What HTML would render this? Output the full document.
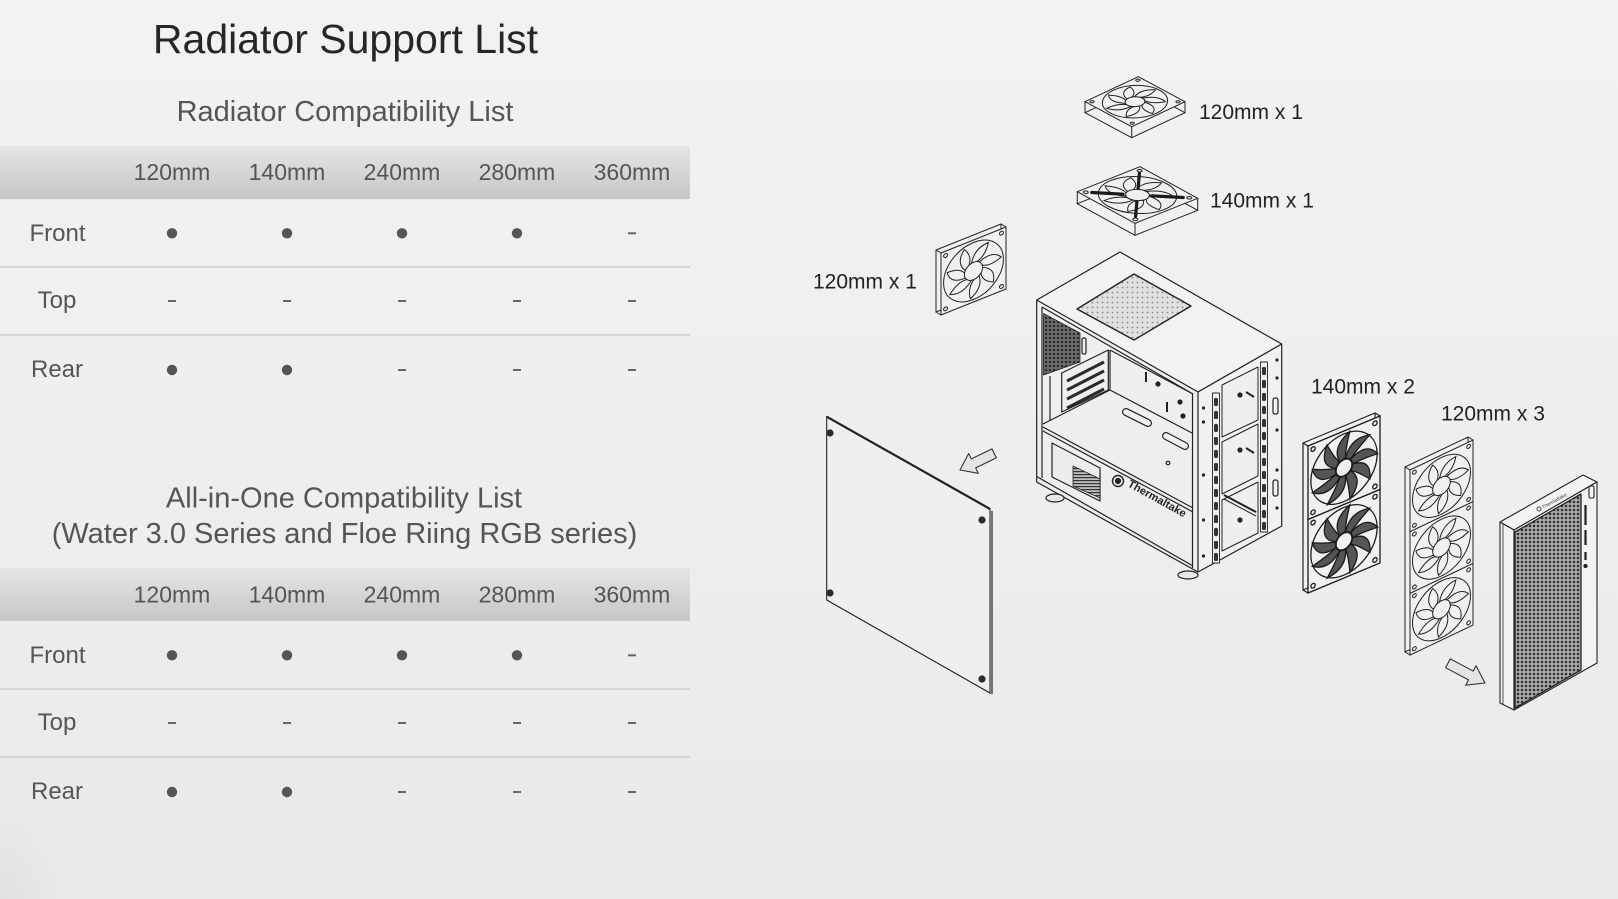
<!DOCTYPE html>
<html>
<head>
<meta charset="utf-8">
<style>
html,body{margin:0;padding:0;}
body{width:1618px;height:899px;overflow:hidden;position:relative;
background:linear-gradient(180deg,#f2f2f2 0%,#eeeeee 55%,#e9e9e9 100%);
font-family:"Liberation Sans",Arial,sans-serif;}
.corner{position:absolute;left:0;top:800px;width:60px;height:99px;
background:radial-gradient(ellipse at 0% 100%,rgba(0,0,0,0.035) 0%,rgba(0,0,0,0) 70%);}
.band{position:absolute;left:0;width:690px;height:53px;
background:linear-gradient(180deg,#e5e5e5 0%,#d6d6d6 50%,#c6c6c6 100%);}
.rl{position:absolute;left:0;width:690px;height:2px;background:#d5d5d5;}
svg{position:absolute;left:0;top:0;}
</style>
</head>
<body>
<div class="corner"></div>
<div class="band" style="top:146px"></div>
<div class="band" style="top:568px"></div>
<div class="rl" style="top:266px"></div>
<div class="rl" style="top:334px"></div>
<div class="rl" style="top:688px"></div>
<div class="rl" style="top:756px"></div>

<svg width="1618" height="899" viewBox="0 0 1618 899" xmlns="http://www.w3.org/2000/svg">
<defs>
  <pattern id="mesh" width="4" height="4" patternUnits="userSpaceOnUse">
    <rect width="4" height="4" fill="#a8a8a8"/>
    <circle cx="2" cy="2" r="1.25" fill="#2e2e2e"/>
  </pattern>
  <pattern id="tmesh" width="5" height="5" patternUnits="userSpaceOnUse">
    <rect width="5" height="5" fill="#e0e0e0"/>
    <circle cx="2.5" cy="2.5" r="0.9" fill="#8a8a8a"/>
  </pattern>
  <pattern id="dmesh" width="4" height="4" patternUnits="userSpaceOnUse">
    <rect width="4" height="4" fill="#6a6a6a"/>
    <circle cx="2" cy="2" r="1.1" fill="#1e1e1e"/>
  </pattern>
  <pattern id="vent" width="3" height="3" patternUnits="userSpaceOnUse">
    <rect width="3" height="3" fill="#bdbdbd"/>
    <rect width="3" height="1.2" fill="#333"/>
  </pattern>
  <g id="frame">
    <rect x="0" y="0" width="100" height="100" fill="#f0f0f0" stroke="#222" stroke-width="1" vector-effect="non-scaling-stroke"/>
  </g>
  <g id="fan" fill="none" stroke="#222" stroke-width="1">
    <rect x="0" y="0" width="100" height="100" fill="#f0f0f0" vector-effect="non-scaling-stroke"/>
    <circle cx="7" cy="7" r="3" vector-effect="non-scaling-stroke"/>
    <circle cx="93" cy="7" r="3" vector-effect="non-scaling-stroke"/>
    <circle cx="7" cy="93" r="3" vector-effect="non-scaling-stroke"/>
    <circle cx="93" cy="93" r="3" vector-effect="non-scaling-stroke"/>
    <circle cx="50" cy="50" r="46" vector-effect="non-scaling-stroke"/>
    <path d="M64,50 Q84.8,59.3 80.4,80.4 Q63,72.5 61.5,58 Z" vector-effect="non-scaling-stroke"/>
    <path d="M64,50 Q84.8,59.3 80.4,80.4 Q63,72.5 61.5,58 Z" transform="rotate(51.4 50 50)" vector-effect="non-scaling-stroke"/>
    <path d="M64,50 Q84.8,59.3 80.4,80.4 Q63,72.5 61.5,58 Z" transform="rotate(102.9 50 50)" vector-effect="non-scaling-stroke"/>
    <path d="M64,50 Q84.8,59.3 80.4,80.4 Q63,72.5 61.5,58 Z" transform="rotate(154.3 50 50)" vector-effect="non-scaling-stroke"/>
    <path d="M64,50 Q84.8,59.3 80.4,80.4 Q63,72.5 61.5,58 Z" transform="rotate(205.7 50 50)" vector-effect="non-scaling-stroke"/>
    <path d="M64,50 Q84.8,59.3 80.4,80.4 Q63,72.5 61.5,58 Z" transform="rotate(257.1 50 50)" vector-effect="non-scaling-stroke"/>
    <path d="M64,50 Q84.8,59.3 80.4,80.4 Q63,72.5 61.5,58 Z" transform="rotate(308.6 50 50)" vector-effect="non-scaling-stroke"/>
    <circle cx="50" cy="50" r="14" fill="#f0f0f0" vector-effect="non-scaling-stroke"/>
  </g>
  <g id="fanB" fill="none" stroke="#1a1a1a" stroke-width="1.3">
    <rect x="0" y="0" width="100" height="100" fill="#f0f0f0" vector-effect="non-scaling-stroke"/>
    <circle cx="7" cy="7" r="3" vector-effect="non-scaling-stroke"/>
    <circle cx="93" cy="7" r="3" vector-effect="non-scaling-stroke"/>
    <circle cx="7" cy="93" r="3" vector-effect="non-scaling-stroke"/>
    <circle cx="93" cy="93" r="3" vector-effect="non-scaling-stroke"/>
    <circle cx="50" cy="50" r="46" vector-effect="non-scaling-stroke"/>
    <path d="M62,50 Q88,52 86,80 Q70,64 60,58 Z" fill="#555" vector-effect="non-scaling-stroke"/>
    <path d="M62,50 Q88,52 86,80 Q70,64 60,58 Z" fill="#555" transform="rotate(40 50 50)" vector-effect="non-scaling-stroke"/>
    <path d="M62,50 Q88,52 86,80 Q70,64 60,58 Z" fill="#555" transform="rotate(80 50 50)" vector-effect="non-scaling-stroke"/>
    <path d="M62,50 Q88,52 86,80 Q70,64 60,58 Z" fill="#555" transform="rotate(120 50 50)" vector-effect="non-scaling-stroke"/>
    <path d="M62,50 Q88,52 86,80 Q70,64 60,58 Z" fill="#555" transform="rotate(160 50 50)" vector-effect="non-scaling-stroke"/>
    <path d="M62,50 Q88,52 86,80 Q70,64 60,58 Z" fill="#555" transform="rotate(200 50 50)" vector-effect="non-scaling-stroke"/>
    <path d="M62,50 Q88,52 86,80 Q70,64 60,58 Z" fill="#555" transform="rotate(240 50 50)" vector-effect="non-scaling-stroke"/>
    <path d="M62,50 Q88,52 86,80 Q70,64 60,58 Z" fill="#555" transform="rotate(280 50 50)" vector-effect="non-scaling-stroke"/>
    <path d="M62,50 Q88,52 86,80 Q70,64 60,58 Z" fill="#555" transform="rotate(320 50 50)" vector-effect="non-scaling-stroke"/>
    <circle cx="50" cy="50" r="11" fill="#f0f0f0" vector-effect="non-scaling-stroke"/>
  </g>
</defs>

<!-- ============ TEXT: titles ============ -->
<g font-family="'Liberation Sans', Arial, sans-serif" text-anchor="middle">
  <text x="345.5" y="53" font-size="41" fill="#262626">Radiator Support List</text>
  <text x="345" y="121" font-size="29" fill="#555">Radiator Compatibility List</text>
  <text x="344" y="507.5" font-size="29" fill="#555">All-in-One Compatibility List</text>
  <text x="344.5" y="543" font-size="29" fill="#555">(Water 3.0 Series and Floe Riing RGB series)</text>

  <g font-size="23" fill="#555">
    <text x="172" y="180">120mm</text><text x="287" y="180">140mm</text><text x="402" y="180">240mm</text><text x="517" y="180">280mm</text><text x="632" y="180">360mm</text>
    <text x="172" y="602.5">120mm</text><text x="287" y="602.5">140mm</text><text x="402" y="602.5">240mm</text><text x="517" y="602.5">280mm</text><text x="632" y="602.5">360mm</text>
  </g>
  <g font-size="24" fill="#555">
    <text x="57.5" y="241">Front</text><text x="57" y="308">Top</text><text x="57" y="377">Rear</text>
    <text x="57.5" y="663">Front</text><text x="57" y="730">Top</text><text x="57" y="799">Rear</text>
  </g>
</g>

<!-- dots & dashes -->
<g fill="#555">
  <circle cx="172" cy="233.3" r="5.2"/><circle cx="287" cy="233.3" r="5.2"/><circle cx="402" cy="233.3" r="5.2"/><circle cx="517" cy="233.3" r="5.2"/>
  <rect x="628" y="232.3" width="8" height="2" fill="#666"/>
  <rect x="168" y="300" width="8" height="2" fill="#666"/><rect x="283" y="300" width="8" height="2" fill="#666"/><rect x="398" y="300" width="8" height="2" fill="#666"/><rect x="513" y="300" width="8" height="2" fill="#666"/><rect x="628" y="300" width="8" height="2" fill="#666"/>
  <circle cx="172" cy="370" r="5.2"/><circle cx="287" cy="370" r="5.2"/>
  <rect x="398" y="369" width="8" height="2" fill="#666"/><rect x="513" y="369" width="8" height="2" fill="#666"/><rect x="628" y="369" width="8" height="2" fill="#666"/>
  <circle cx="172" cy="655.3" r="5.2"/><circle cx="287" cy="655.3" r="5.2"/><circle cx="402" cy="655.3" r="5.2"/><circle cx="517" cy="655.3" r="5.2"/>
  <rect x="628" y="654.3" width="8" height="2" fill="#666"/>
  <rect x="168" y="722" width="8" height="2" fill="#666"/><rect x="283" y="722" width="8" height="2" fill="#666"/><rect x="398" y="722" width="8" height="2" fill="#666"/><rect x="513" y="722" width="8" height="2" fill="#666"/><rect x="628" y="722" width="8" height="2" fill="#666"/>
  <circle cx="172" cy="792" r="5.2"/><circle cx="287" cy="792" r="5.2"/>
  <rect x="398" y="791" width="8" height="2" fill="#666"/><rect x="513" y="791" width="8" height="2" fill="#666"/><rect x="628" y="791" width="8" height="2" fill="#666"/>
</g>

<!-- ============ DIAGRAM ============ -->
<g font-family="'Liberation Sans', Arial, sans-serif" font-size="21" fill="#222">
  <text x="1199" y="119">120mm x 1</text>
  <text x="1210" y="207.5">140mm x 1</text>
  <text x="813" y="288.5">120mm x 1</text>
  <text x="1311" y="393.5">140mm x 2</text>
  <text x="1441" y="420.5">120mm x 3</text>
</g>

<!-- Top fan 120 -->
<g stroke="#222" stroke-width="1" fill="none">
  <use href="#frame" transform="matrix(.533,-.25,.467,.25,1085,112.7)"/>
  <line x1="1085" y1="101.7" x2="1085" y2="112.7"/>
  <line x1="1131.7" y1="126.7" x2="1131.7" y2="137.7"/>
  <line x1="1185" y1="101.7" x2="1185" y2="112.7"/>
  <use href="#fan" transform="matrix(.533,-.25,.467,.25,1085,101.7)"/>
</g>

<!-- Top fan 140 -->
<g stroke="#222" stroke-width="1" fill="none">
  <use href="#frame" transform="matrix(.627,-.25,.577,.316,1077.3,203.7)"/>
  <line x1="1077.3" y1="191.7" x2="1077.3" y2="203.7"/>
  <line x1="1135" y1="223.3" x2="1135" y2="235.3"/>
  <line x1="1197.7" y1="198.3" x2="1197.7" y2="210.3"/>
  <use href="#fan" transform="matrix(.627,-.25,.577,.316,1077.3,191.7)"/>
  <g transform="matrix(.627,-.25,.577,.316,1077.3,191.7)" stroke="#1a1a1a" stroke-width="3.2" stroke-linecap="round">
    <line x1="12" y1="12" x2="38" y2="38" vector-effect="non-scaling-stroke"/>
    <line x1="62" y1="62" x2="88" y2="88" vector-effect="non-scaling-stroke"/>
    <line x1="88" y1="12" x2="62" y2="38" vector-effect="non-scaling-stroke"/>
    <line x1="38" y1="62" x2="12" y2="88" vector-effect="non-scaling-stroke"/>
  </g>
</g>

<!-- Rear 120 fan (left) -->
<g stroke="#222" stroke-width="1" fill="none">
  <use href="#frame" transform="matrix(.65,-.26,0,.62,936,250)"/>
  <line x1="941" y1="253" x2="936" y2="250"/>
  <line x1="1006" y1="227" x2="1001" y2="224"/>
  <line x1="941" y1="315" x2="936" y2="312"/>
  <use href="#fan" transform="matrix(.65,-.26,0,.62,941,253)"/>
</g>

<!-- Case -->
<g stroke="#222" stroke-width="1.2" fill="none" stroke-linejoin="round">
  <polygon points="1036.7,300 1120,252 1281.7,344 1198,392" fill="#f2f2f2"/>
  <polygon points="1077,309 1134,274 1191,306 1134,340" fill="url(#tmesh)" stroke-width="1.4"/>
  <polygon points="1198,392 1281.7,344 1281.7,526 1198,572" fill="#f1f1f1"/>
  <polyline points="1036.7,300 1036.7,482 1198,572"/>
  <line x1="1042" y1="307" x2="1042" y2="478"/>
  <line x1="1042" y1="307" x2="1193" y2="394"/>
  <line x1="1192.5" y1="394" x2="1192.5" y2="568"/>
  <line x1="1036.7" y1="476.5" x2="1193" y2="566"/>
  <polygon points="1043.5,313.5 1080,333 1080,362 1043.5,375" fill="url(#dmesh)" stroke-width="0.8"/>
  <rect x="1082" y="338" width="4" height="16" rx="1.5"/>
  <line x1="1050" y1="376" x2="1050" y2="421"/>
  <polygon points="1061.7,373 1108.3,350 1108.3,390 1061.7,412" fill="#eeeeee"/>
  <g stroke-width="3" stroke="#2a2a2a">
    <line x1="1067" y1="381" x2="1104" y2="362"/>
    <line x1="1067" y1="390" x2="1104" y2="371"/>
    <line x1="1067" y1="399" x2="1104" y2="380"/>
    <line x1="1067" y1="408" x2="1104" y2="389"/>
  </g>
  <line x1="1110" y1="350" x2="1193" y2="394"/>
  <line x1="1110" y1="350" x2="1110" y2="390"/>
  <line x1="1146" y1="372" x2="1146" y2="382" stroke-width="2"/>
  <line x1="1167" y1="402" x2="1167" y2="412" stroke-width="2"/>
  <circle cx="1180" cy="402" r="2" fill="#222"/>
  <circle cx="1183" cy="416" r="2" fill="#222"/>
  <circle cx="1158" cy="384" r="2" fill="#222"/>
  <line x1="1043" y1="424" x2="1110" y2="390"/>
  <line x1="1110" y1="390" x2="1192" y2="433"/>
  <line x1="1043" y1="427" x2="1193" y2="508"/>
  <line x1="1043" y1="431" x2="1193" y2="512"/>
  <polygon points="1052,443 1100,468 1100,501 1052,477" fill="#ececec"/>
  <polygon points="1073,466 1100,479 1100,498 1073,486" fill="url(#vent)" stroke-width="0.8"/>
  <line x1="1126" y1="412" x2="1148" y2="423" stroke-width="8" stroke-linecap="round"/>
  <line x1="1126" y1="412" x2="1148" y2="423" stroke-width="5.6" stroke-linecap="round" stroke="#f0f0f0"/>
  <line x1="1166" y1="436" x2="1185" y2="446" stroke-width="8" stroke-linecap="round"/>
  <line x1="1166" y1="436" x2="1185" y2="446" stroke-width="5.6" stroke-linecap="round" stroke="#f0f0f0"/>
  <circle cx="1168" cy="463" r="1.8"/>
  <circle cx="1118" cy="481" r="5.5" stroke-width="1.4"/>
  <circle cx="1118" cy="481" r="2.5" fill="#222"/>
  <ellipse cx="1055" cy="498" rx="9" ry="4" fill="#e8e8e8"/>
  <ellipse cx="1188" cy="575" rx="10" ry="4" fill="#e8e8e8"/>
  <rect x="1212.5" y="393" width="7" height="170" fill="#efefef" stroke-width="0.9"/>
  <rect x="1260.5" y="362" width="7" height="170" fill="#efefef" stroke-width="0.9"/>
  <polygon points="1222,385 1258,367 1258,420 1222,437" fill="#efefef" stroke-width="1"/>
  <polygon points="1222,442 1258,424 1258,476 1222,494" fill="#efefef" stroke-width="1"/>
  <polygon points="1222,500 1258,482 1258,533 1222,551" fill="#efefef" stroke-width="1"/>
  <line x1="1224" y1="495" x2="1256" y2="512" stroke-width="2"/>
  <line x1="1224" y1="499" x2="1256" y2="516" stroke-width="1"/>
  <circle cx="1240" cy="395" r="2" fill="#222"/>
  <circle cx="1240" cy="450" r="2" fill="#222"/>
  <circle cx="1240" cy="520" r="2" fill="#222"/>
  <path d="M1246,392 l8,5 M1246,448 l8,5" stroke-width="2"/>
  <g fill="#222" stroke="none">
    <circle cx="1203.5" cy="408" r="1.6"/><circle cx="1203.5" cy="422" r="1.6"/><circle cx="1203.5" cy="475" r="1.6"/><circle cx="1203.5" cy="520" r="1.6"/><circle cx="1203.5" cy="556" r="1.6"/>
    <circle cx="1277" cy="360" r="1.6"/><circle cx="1277" cy="378" r="1.6"/><circle cx="1277" cy="430" r="1.6"/><circle cx="1277" cy="470" r="1.6"/><circle cx="1277" cy="508" r="1.6"/>
  </g>
  <rect x="1273" y="398" width="5" height="16" rx="2"/>
  <rect x="1273" y="480" width="5" height="16" rx="2"/>
</g>
<g fill="#333">
  <rect x="1214" y="398" width="4" height="8" rx="1.5"/><rect x="1214" y="411" width="4" height="8" rx="1.5"/><rect x="1214" y="424" width="4" height="8" rx="1.5"/><rect x="1214" y="437" width="4" height="8" rx="1.5"/><rect x="1214" y="450" width="4" height="8" rx="1.5"/><rect x="1214" y="463" width="4" height="8" rx="1.5"/><rect x="1214" y="476" width="4" height="8" rx="1.5"/><rect x="1214" y="489" width="4" height="8" rx="1.5"/><rect x="1214" y="502" width="4" height="8" rx="1.5"/><rect x="1214" y="515" width="4" height="8" rx="1.5"/><rect x="1214" y="528" width="4" height="8" rx="1.5"/><rect x="1214" y="541" width="4" height="8" rx="1.5"/><rect x="1214" y="553" width="4" height="8" rx="1.5"/>
  <rect x="1262" y="367" width="4" height="8" rx="1.5"/><rect x="1262" y="380" width="4" height="8" rx="1.5"/><rect x="1262" y="393" width="4" height="8" rx="1.5"/><rect x="1262" y="406" width="4" height="8" rx="1.5"/><rect x="1262" y="419" width="4" height="8" rx="1.5"/><rect x="1262" y="432" width="4" height="8" rx="1.5"/><rect x="1262" y="445" width="4" height="8" rx="1.5"/><rect x="1262" y="458" width="4" height="8" rx="1.5"/><rect x="1262" y="471" width="4" height="8" rx="1.5"/><rect x="1262" y="484" width="4" height="8" rx="1.5"/><rect x="1262" y="497" width="4" height="8" rx="1.5"/><rect x="1262" y="510" width="4" height="8" rx="1.5"/><rect x="1262" y="522" width="4" height="8" rx="1.5"/>
</g>
<text x="1127" y="486" font-family="'Liberation Sans', Arial, sans-serif" font-size="11" font-weight="bold" fill="#222" transform="rotate(29 1127 486)">Thermaltake</text>

<!-- Side panel -->
<g stroke="#222" fill="none">
  <polygon points="826.7,416.7 990,509 990,693 826.7,600" fill="#efefef" stroke-width="1.1"/>
  <line x1="826.7" y1="416.7" x2="990" y2="509" stroke-width="2.2"/>
  <line x1="992" y1="511" x2="992" y2="694" stroke-width="1.2"/>
  <g fill="#2a2a2a" stroke="none">
    <circle cx="830" cy="433" r="3.6"/><circle cx="982" cy="520" r="3.6"/><circle cx="830" cy="593" r="3.6"/><circle cx="982" cy="679" r="3.6"/>
  </g>
</g>

<!-- Arrows -->
<polygon points="0,0 15,-11 15,-5 38,-5 38,5 15,5 15,11" transform="translate(960,470) rotate(-26)" fill="#e4e4e4" stroke="#333" stroke-width="1.1" stroke-linejoin="round"/>
<polygon points="0,0 16,-11 16,-5 42,-5 42,5 16,5 16,11" transform="translate(1485,683) rotate(-152)" fill="#e4e4e4" stroke="#333" stroke-width="1.1" stroke-linejoin="round"/>

<!-- 140mm x 2 -->
<g stroke="#222" stroke-width="1.2" fill="none">
  <polygon points="1303,443 1375,413 1375,559 1303,590" fill="#f0f0f0"/>
  <line x1="1303" y1="443" x2="1308" y2="446"/>
  <line x1="1375" y1="413" x2="1380" y2="416"/>
  <line x1="1303" y1="590" x2="1308" y2="593"/>
  <use href="#fanB" transform="matrix(.72,-.30,0,.735,1308,446)"/>
  <use href="#fanB" transform="matrix(.72,-.30,0,.735,1308,519.5)"/>
</g>

<!-- 120mm x 3 -->
<g stroke="#222" stroke-width="1" fill="none">
  <polygon points="1405,467 1468,437 1468,622 1405,652" fill="#f0f0f0"/>
  <line x1="1405" y1="467" x2="1410" y2="470"/>
  <line x1="1468" y1="437" x2="1473" y2="440"/>
  <line x1="1405" y1="652" x2="1410" y2="655"/>
  <use href="#fan" transform="matrix(.63,-.30,0,.617,1410,470)"/>
  <use href="#fan" transform="matrix(.63,-.30,0,.617,1410,531.7)"/>
  <use href="#fan" transform="matrix(.63,-.30,0,.617,1410,593.4)"/>
</g>

<!-- Front panel -->
<g stroke="#222" stroke-width="1.1" fill="none" stroke-linejoin="round">
  <polygon points="1500,522 1583,475 1597,482 1514,530" fill="#f2f2f2"/>
  <polygon points="1500,522 1514,530 1514,710 1500,703" fill="#f2f2f2"/>
  <polygon points="1514,530 1597,482 1597,663 1514,710" fill="#f2f2f2"/>
  <polygon points="1515,532 1581,494 1581,670 1515,708" fill="url(#mesh)" stroke-width="1.3"/>
  <line x1="1503" y1="524" x2="1503" y2="704" stroke-width="0.8"/>
  <rect x="1589" y="486" width="5" height="12" rx="1.5"/>
  <circle cx="1539" cy="509" r="2" stroke-width="0.8"/>
  <g stroke-width="2.2">
    <line x1="1585.5" y1="505" x2="1585.5" y2="525"/>
    <line x1="1585.5" y1="530" x2="1585.5" y2="545"/>
    <line x1="1585.5" y1="552" x2="1585.5" y2="560"/>
  </g>
  <circle cx="1585.5" cy="566" r="1.6" fill="#222"/>
</g>
<text x="1543" y="509" font-family="'Liberation Sans', Arial, sans-serif" font-size="5" fill="#444" transform="rotate(-29 1543 509)">Thermaltake</text>
</svg>
</body>
</html>
